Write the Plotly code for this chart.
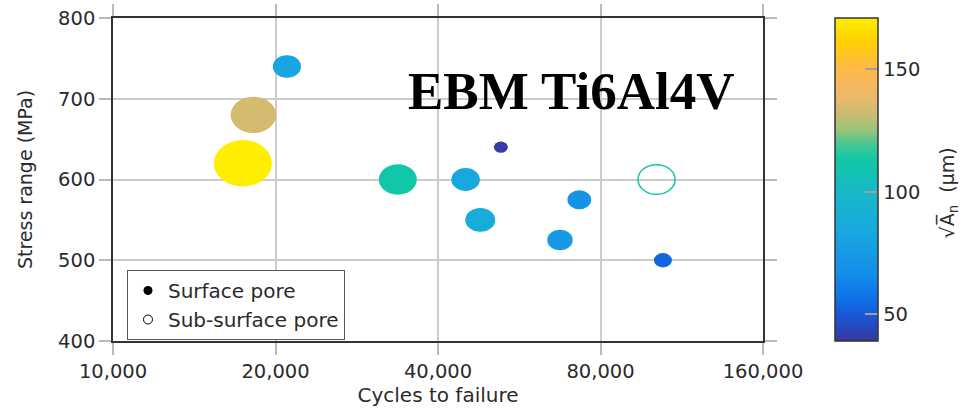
import math
import plotly.graph_objects as go

# Fatigue results for EBM Ti6Al4V specimens
cycles = [17400, 18200, 21000, 33700, 45000, 52300, 47900, 73100, 67300, 104400, 101600]
stress = [620, 680, 740, 600, 600, 640, 550, 575, 525, 500, 600]
pore_size = [171, 134, 83, 112, 84, 41, 88, 70, 75, 53, 109]          # sqrt(area) in µm
pore_kind = ["Surface pore"] * 10 + ["Sub-surface pore"]

x_tickvals = [10000, 20000, 40000, 80000, 160000]
x_ticktext = ["10,000", "20,000", "40,000", "80,000", "160,000"]
y_tickvals = [400, 500, 600, 700, 800]
cbar_tickvals = [50, 100, 150]
cbar_range = [39, 171]
x_range = [10000, 160000]

# parula-like colour scale
cscale = [
    [0.000, "#363a98"], [0.034, "#2c44b8"], [0.083, "#1858d8"], [0.129, "#0e72e6"],
    [0.220, "#1590e8"], [0.341, "#18a8e0"], [0.462, "#18b8c8"], [0.560, "#10c8a4"],
    [0.606, "#40c894"], [0.652, "#98c47c"], [0.697, "#c6bc72"], [0.760, "#edb86a"],
    [0.841, "#ffb84a"], [0.930, "#ffd200"], [1.000, "#ffee00"],
]

FONT = "DejaVu Sans"
TXT = "#2b2b2b"
PX_PER_UM = 0.34      # bubble width per µm of pore size
ASPECT = 0.8          # bubble height / width


def hex_rgb(h):
    h = h.lstrip("#")
    return [int(h[i:i + 2], 16) for i in (0, 2, 4)]


def scale_color(v):
    t = (v - cbar_range[0]) / (cbar_range[1] - cbar_range[0])
    t = min(max(t, 0.0), 1.0)
    for (t0, c0), (t1, c1) in zip(cscale[:-1], cscale[1:]):
        if t0 <= t <= t1:
            f = (t - t0) / (t1 - t0) if t1 > t0 else 0
            a, b = hex_rgb(c0), hex_rgb(c1)
            r = [round(a[i] + (b[i] - a[i]) * f) for i in range(3)]
            return f"rgb({r[0]},{r[1]},{r[2]})"
    return cscale[-1][1]


fig = go.Figure()

# data trace: carries hover info and the colour bar
fig.add_trace(go.Scatter(
    x=cycles, y=stress, mode="markers", showlegend=False,
    customdata=list(zip(pore_size, pore_kind)),
    hovertemplate="%{x:,} cycles<br>%{y} MPa<br>√A = %{customdata[0]} µm<br>%{customdata[1]}<extra></extra>",
    marker=dict(
        size=[v * PX_PER_UM * ASPECT for v in pore_size], opacity=0,
        color=pore_size, colorscale=cscale, cmin=cbar_range[0], cmax=cbar_range[1],
        showscale=True,
        colorbar=dict(
            x=1.1108, xanchor="left", xpad=0, y=0.5, yanchor="middle", ypad=0,
            len=1, lenmode="fraction", thickness=43,
            outlinecolor="#333333", outlinewidth=1.5,
            tickvals=cbar_tickvals, ticks="inside", ticklen=13, tickwidth=1.5,
            tickcolor="#a0a0a0",
            tickfont=dict(family=FONT, size=19.5, color=TXT),
        ),
    ),
))

# bubbles drawn as ellipses anchored at each data point
# (x2 is a hidden linear axis in log10(cycles) overlaying the log x axis)
for xv, yv, v, kind in zip(cycles, stress, pore_size, pore_kind):
    w = v * PX_PER_UM
    h = w * ASPECT
    col = scale_color(v)
    filled = kind == "Surface pore"
    fig.add_shape(
        type="circle", xref="x2", yref="y",
        xsizemode="pixel", ysizemode="pixel", xanchor=math.log10(xv), yanchor=yv,
        x0=-w / 2, x1=w / 2, y0=-h / 2, y1=h / 2,
        fillcolor=col if filled else "rgba(0,0,0,0)",
        line=dict(color=col, width=0 if filled else 1.5),
    )

# legend entries
fig.add_trace(go.Scatter(x=[None], y=[None], mode="markers", name="Surface pore",
                         marker=dict(symbol="circle", size=9, color="black")))
fig.add_trace(go.Scatter(x=[None], y=[None], mode="markers", name="Sub-surface pore",
                         marker=dict(symbol="circle-open", size=9, color="black",
                                     line=dict(width=1))))

axis_common = dict(
    showline=True, linecolor="#333333", linewidth=1.5, mirror="allticks",
    ticks="outside", ticklen=12, tickwidth=1.5, tickcolor="#bbbbbb",
    showgrid=True, gridcolor="#cccccc", gridwidth=1.5, zeroline=False,
    tickfont=dict(family=FONT, size=19.5, color=TXT),
)

log_range = [math.log10(x_range[0]), math.log10(x_range[1])]
fig.update_xaxes(
    type="log", range=log_range, tickvals=x_tickvals, ticktext=x_ticktext,
    title=dict(text="Cycles to failure", font=dict(family=FONT, size=20, color=TXT), standoff=2),
    **axis_common,
)
fig.update_yaxes(
    range=[400, 800], tickvals=y_tickvals,
    title=dict(text="Stress range (MPa)", font=dict(family=FONT, size=19, color=TXT), standoff=20),
    **axis_common,
)

# material label
fig.add_annotation(
    text="<b>EBM Ti6Al4V</b>", xref="paper", yref="paper", x=0.705, y=0.774,
    xanchor="center", yanchor="middle", showarrow=False,
    font=dict(family="Liberation Serif", size=53, color="black"),
)

# colour-bar title
fig.add_annotation(
    text="√A̅<sub>n</sub>  (µm)", xref="paper", yref="paper", x=1.2846, y=0.46,
    xanchor="center", yanchor="middle", textangle=-90, showarrow=False,
    font=dict(family=FONT, size=19, color=TXT),
)

fig.update_layout(
    width=966, height=408,
    margin=dict(l=113, r=203, t=18, b=67, autoexpand=False),
    paper_bgcolor="white", plot_bgcolor="white",
    xaxis2=dict(overlaying="x", range=log_range, visible=False, fixedrange=True),
    showlegend=True,
    legend=dict(
        x=0.0215, y=0.2198, xanchor="left", yanchor="top",
        bgcolor="white", bordercolor="#555555", borderwidth=1,
        font=dict(family=FONT, size=20, color=TXT),
        itemwidth=30, tracegroupgap=0,
    ),
)

fig.write_html("out.html")
